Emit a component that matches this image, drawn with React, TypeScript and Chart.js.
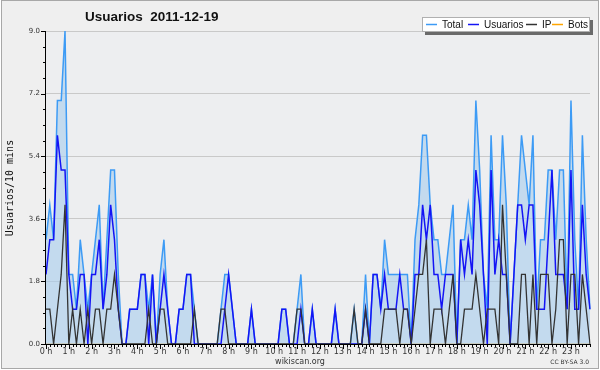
import React, { useEffect, useRef } from "react";
import { Chart, registerables } from "chart.js";
Chart.register(...registerables);

const HOUR_LABELS = ["0 h","1 h","2 h","3 h","4 h","5 h","6 h","7 h","8 h","9 h","10 h","11 h","12 h","13 h","14 h","15 h","16 h","17 h","18 h","19 h","20 h","21 h","22 h","23 h"];
const Y_TICKS = [0, 1.8, 3.6, 5.4, 7.2, 9.0];

// one value per 10 minutes, 144 per series
const TOTAL = [
  3,4,3,7,7,9, 2,2,1,3,2,1, 2,3,4,1,3,5, 5,2,0,0,1,1,
  1,2,2,1,2,0, 2,3,1,0,0,1, 1,2,2,1,0,0, 0,0,0,0,1,2,
  2,1,0,0,0,0, 1,0,0,0,0,0, 0,0,1,1,0,0, 1,2,0,0,1,0,
  0,0,0,0,1,0, 0,0,0,1,0,0, 2,0,2,2,1,3, 2,2,2,2,2,2,
  0,3,4,6,6,4, 3,3,2,2,3,4, 0,3,3,4,3,7, 5,2,1,6,3,3,
  6,4,0,2,4,6, 5,4,6,1,3,3, 5,5,3,5,5,1, 7,3,1,6,3,1
];
const USUARIOS = [
  2,3,3,6,5,5, 2,1,1,2,2,0, 2,2,3,1,2,4, 3,1,0,0,1,1,
  1,2,2,0,2,0, 1,2,1,0,0,1, 1,2,2,0,0,0, 0,0,0,0,0,1,
  2,1,0,0,0,0, 1,0,0,0,0,0, 0,0,1,1,0,0, 0,1,0,0,1,0,
  0,0,0,0,1,0, 0,0,0,0,0,0, 1,0,2,2,1,2, 1,1,1,2,1,1,
  0,2,2,4,3,4, 2,2,1,2,2,2, 0,3,2,3,2,5, 4,2,0,5,2,3,
  2,2,0,2,4,4, 3,4,4,1,1,1, 3,5,2,2,2,1, 5,1,1,4,2,1
];
const IP = [
  1,1,0,1,2,4, 0,1,0,1,0,1, 0,1,1,0,1,1, 2,1,0,0,0,0,
  0,0,0,1,0,0, 1,1,0,0,0,0, 0,0,0,1,0,0, 0,0,0,0,1,1,
  0,0,0,0,0,0, 0,0,0,0,0,0, 0,0,0,0,0,0, 1,1,0,0,0,0,
  0,0,0,0,0,0, 0,0,0,1,0,0, 1,0,0,0,0,1, 1,1,1,0,1,1,
  0,1,2,2,3,0, 1,1,1,0,1,2, 0,0,1,1,1,2, 1,0,1,1,1,0,
  4,2,0,0,0,2, 2,0,2,0,2,2, 2,0,1,3,3,0, 2,2,0,2,1,0
];
const BOTS = [
  0,0,0,0,0,0, 0,0,0,0,0,0, 0,0,0,0,0,0, 0,0,0,0,0,0,
  0,0,0,0,0,0, 0,0,0,0,0,0, 0,0,0,0,0,0, 0,0,0,0,0,0,
  0,0,0,0,0,0, 0,0,0,0,0,0, 0,0,0,0,0,0, 0,0,0,0,0,0,
  0,0,0,0,0,0, 0,0,0,0,0,0, 0,0,0,0,0,0, 0,0,0,0,0,0,
  0,0,0,0,0,0, 0,0,0,0,0,0, 0,0,0,0,0,0, 0,0,0,0,0,0,
  0,0,0,0,0,0, 0,0,0,0,0,0, 0,0,0,0,0,0, 0,0,0,0,0,0
];

const TITLE = "Usuarios  2011-12-19";
const Y_TITLE = "Usuarios/10 mins";
const LEGEND = [
  { label: "Total", color: "#3d9bf5" },
  { label: "Usuarios", color: "#1414f5" },
  { label: "IP", color: "#333333" },
  { label: "Bots", color: "#ffa500" },
];

const CATEGORIES = TOTAL.map((_, i) => (i % 6 === 0 ? HOUR_LABELS[i / 6] : ""));

const decor = {
  id: "decor",
  beforeDraw(chart: any) {
    const { ctx, chartArea: a } = chart;
    ctx.save();
    ctx.fillStyle = "#ffffff";
    ctx.fillRect(0, 0, 600, 370);
    ctx.fillStyle = "#efefef";
    ctx.fillRect(1, 1, 598, 368);
    ctx.strokeStyle = "#a8a8a8";
    ctx.lineWidth = 1;
    ctx.strokeRect(1.5, 0.5, 597, 368);
    ctx.fillStyle = "#edeef0";
    ctx.fillRect(a.left, a.top, a.right - a.left, a.bottom - a.top);
    ctx.restore();
  },
  afterDatasetsDraw(chart: any) {
    const { ctx, chartArea: a, scales } = chart;
    ctx.save();
    ctx.strokeStyle = "#000";
    ctx.lineWidth = 1;
    ctx.beginPath();
    ctx.moveTo(a.left - 0.5, a.top);
    ctx.lineTo(a.left - 0.5, a.bottom + 1);
    ctx.moveTo(a.left - 1, a.bottom + 0.5);
    ctx.lineTo(a.right, a.bottom + 0.5);
    for (let k = 0; k <= 20; k++) {
      const y = Math.round(scales.y.getPixelForValue(k * 0.45)) + 0.5;
      const len = k % 4 === 0 ? 5 : 3;
      ctx.moveTo(a.left - len, y);
      ctx.lineTo(a.left, y);
    }
    for (let i = 0; i < CATEGORIES.length; i++) {
      const x = Math.round(scales.x.getPixelForValue(i)) + 0.5;
      const len = i % 6 === 0 ? 5 : 3;
      ctx.moveTo(x, a.bottom);
      ctx.lineTo(x, a.bottom + len);
    }
    ctx.stroke();
    ctx.restore();
  },
  afterDraw(chart: any) {
    const { ctx } = chart;
    ctx.save();
    // title
    ctx.fillStyle = "#111";
    ctx.font = "bold 13.5px 'Liberation Sans', Arial, sans-serif";
    ctx.textBaseline = "alphabetic";
    ctx.textAlign = "left";
    ctx.fillText(TITLE, 85, 21);
    // y title
    ctx.save();
    ctx.translate(10, 188);
    ctx.rotate(-Math.PI / 2);
    ctx.font = "10px 'DejaVu Sans Mono', monospace";
    ctx.textAlign = "center";
    ctx.textBaseline = "middle";
    ctx.fillStyle = "#111";
    ctx.fillText(Y_TITLE, 0, 0);
    ctx.restore();
    // legend box with shadow
    const bx = 422, by = 17, bw = 168, bh = 15;
    ctx.fillStyle = "#6a6a6a";
    ctx.fillRect(bx + 3, by + 3, bw, bh);
    ctx.fillStyle = "#ffffff";
    ctx.fillRect(bx, by, bw, bh);
    ctx.strokeStyle = "#b0b0b0";
    ctx.strokeRect(bx + 0.5, by + 0.5, bw - 1, bh - 1);
    const lineX = [426, 468, 526, 552];
    ctx.font = "10px 'Liberation Sans', Arial, sans-serif";
    ctx.textBaseline = "middle";
    ctx.textAlign = "left";
    LEGEND.forEach((it, k) => {
      ctx.strokeStyle = it.color;
      ctx.lineWidth = 1.5;
      ctx.beginPath();
      ctx.moveTo(lineX[k], 24.5);
      ctx.lineTo(lineX[k] + 11, 24.5);
      ctx.stroke();
      ctx.fillStyle = "#111";
      ctx.fillText(it.label, lineX[k] + 16, 25);
    });
    // footer
    ctx.fillStyle = "#333";
    ctx.font = "8px 'DejaVu Sans', sans-serif";
    ctx.textAlign = "center";
    ctx.textBaseline = "middle";
    ctx.fillText("wikiscan.org", 300, 362);
    ctx.font = "6px 'DejaVu Sans', sans-serif";
    ctx.textAlign = "right";
    ctx.fillText("CC BY-SA 3.0", 589, 362);
    ctx.restore();
  },
};

export default function App() {
  const ref = useRef<HTMLCanvasElement>(null);
  useEffect(() => {
    document.body.style.margin = "0";
    const chart = new Chart(ref.current!, {
      type: "line",
      data: {
        labels: CATEGORIES,
        datasets: [
          { label: "Total", data: TOTAL, borderColor: "#3d9bf5", backgroundColor: "rgba(170,205,238,0.62)", fill: "origin", borderWidth: 1.5, pointRadius: 0, tension: 0, order: 2 },
          { label: "Usuarios", data: USUARIOS, borderColor: "#1414f5", borderWidth: 1.5, pointRadius: 0, tension: 0, fill: false, order: 1 },
          { label: "IP", data: IP, borderColor: "#333333", borderWidth: 1.3, pointRadius: 0, tension: 0, fill: false, order: 0 },
          { label: "Bots", data: BOTS, borderColor: "#ffa500", borderWidth: 1, pointRadius: 0, tension: 0, fill: false, order: 3 },
        ],
      },
      options: {
        animation: false,
        responsive: false,
        maintainAspectRatio: false,
        events: [],
        layout: { padding: { left: 0, right: 10, top: 31, bottom: 0 } },
        plugins: { legend: { display: false }, title: { display: false }, tooltip: { enabled: false } },
        scales: {
          x: {
            type: "category",
            offset: false,
            grid: { display: false, drawTicks: false },
            border: { display: false },
            ticks: {
              autoSkip: false,
              maxRotation: 0,
              minRotation: 0,
              padding: 3,
              color: "#333",
              font: { family: "'DejaVu Sans', sans-serif", size: 8 },
              callback: (_v: any, i: number) => CATEGORIES[i],
            },
            afterFit: (s: any) => { s.height = 26; },
          },
          y: {
            min: 0,
            max: 9,
            afterBuildTicks: (s: any) => { s.ticks = Y_TICKS.map((v) => ({ value: v })); },
            grid: { color: "#c9c9c9", drawTicks: false, lineWidth: 1 },
            border: { display: false },
            ticks: {
              padding: 6,
              color: "#333",
              font: { family: "'DejaVu Sans', sans-serif", size: 7 },
              callback: (v: any) => Number(v).toFixed(1),
            },
            afterFit: (s: any) => { s.width = 46; },
          },
        },
      },
      plugins: [decor],
    });
    return () => chart.destroy();
  }, []);
  return <canvas ref={ref} width={600} height={370} style={{ display: "block" }} />;
}
